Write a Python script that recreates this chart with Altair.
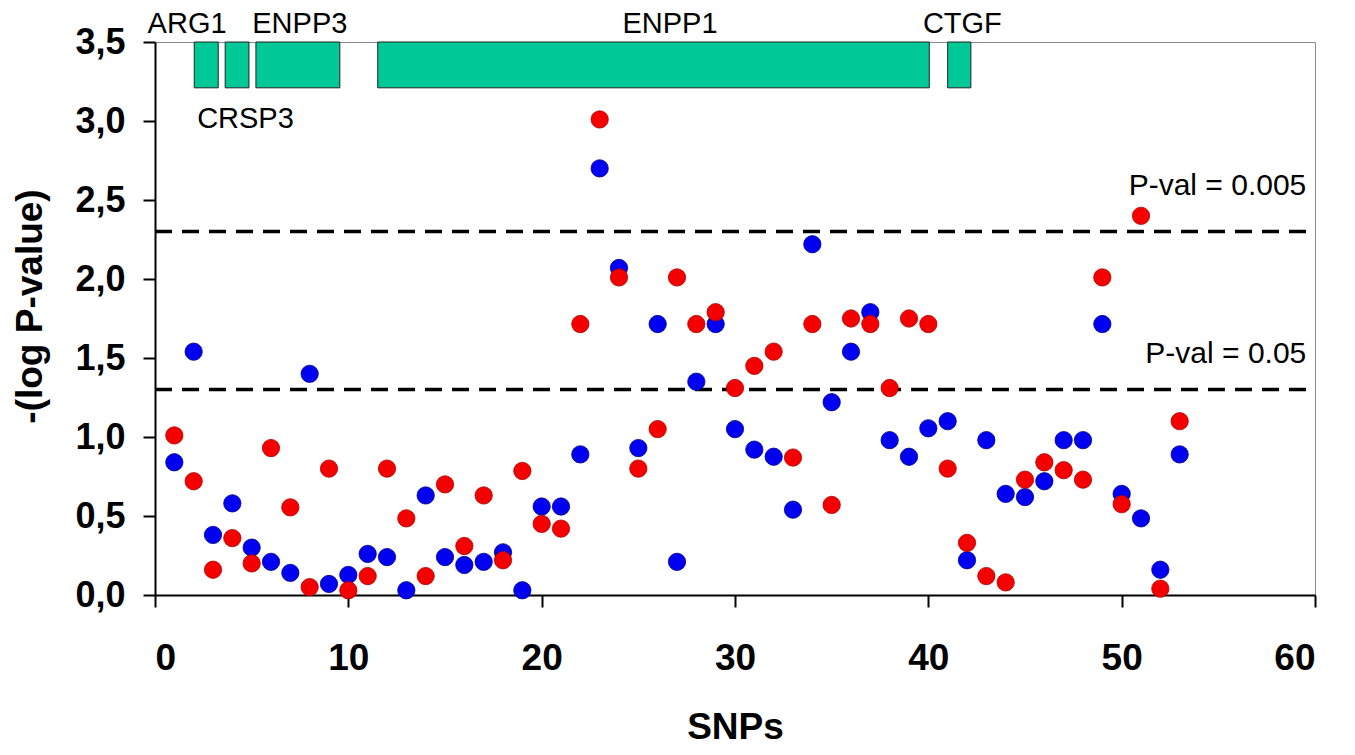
import altair as alt
import pandas as pd

# ---- data ----
snp = list(range(1, 54))
red_vals = [1.01, 0.72, 0.16, 0.36, 0.20, 0.93, 0.555, 0.05, 0.80, 0.03,
            0.12, 0.80, 0.485, 0.12, 0.70, 0.31, 0.63, 0.22, 0.785, 0.45,
            0.42, 1.715, 3.01, 2.01, 0.80, 1.05, 2.01, 1.715, 1.79, 1.31,
            1.45, 1.54, 0.87, 1.715, 0.57, 1.75, 1.715, 1.31, 1.75, 1.715,
            0.80, 0.33, 0.12, 0.08, 0.73, 0.84, 0.79, 0.73, 2.01, 0.575,
            2.40, 0.04, 1.10]
blue_vals = [0.84, 1.54, 0.38, 0.58, 0.30, 0.21, 0.14, 1.40, 0.07, 0.127,
             0.26, 0.24, 0.03, 0.63, 0.24, 0.19, 0.21, 0.27, 0.03, 0.56,
             0.56, 0.89, 2.70, 2.07, 0.93, 1.715, 0.21, 1.35, 1.715, 1.05,
             0.92, 0.875, 0.54, 2.22, 1.22, 1.54, 1.79, 0.98, 0.875, 1.055,
             1.10, 0.22, 0.98, 0.64, 0.62, 0.72, 0.98, 0.98, 1.715, 0.64,
             0.485, 0.16, 0.89]

gene_names = ["ARG1", "CRSP3", "ENPP3", "ENPP1", "CTGF"]
gene_start = [2.03, 3.63, 5.22, 11.52, 41.0]
gene_end = [3.27, 4.86, 9.56, 40.05, 42.2]
gene_bottom = [3.21, 3.21, 3.21, 3.21, 3.21]
gene_top = [3.5, 3.5, 3.5, 3.5, 3.5]

label_names = ["ARG1", "CRSP3", "ENPP3", "ENPP1", "CTGF"]
label_x = [1.66, 4.68, 7.49, 26.64, 41.76]
label_y = [3.56, 2.956, 3.56, 3.56, 3.56]

thr_values = [2.3, 1.3]
thr_start = [0, 0]
thr_end = [59.6, 59.6]
thr_labels = ["P-val = 0.005", "P-val = 0.05"]
thr_label_x = [59.55, 59.55]
thr_label_y = [2.53, 1.47]

x_ticks = [0, 10, 20, 30, 40, 50, 60]
y_ticks = [0, 0.5, 1.0, 1.5, 2.0, 2.5, 3.0, 3.5]

# ---- tables ----
pts = pd.DataFrame({
    "x": snp * 2,
    "y": blue_vals + red_vals,
    "series": ["blue"] * len(snp) + ["red"] * len(snp),
})
genes = pd.DataFrame({"name": gene_names, "x": gene_start, "x2": gene_end,
                      "y": gene_bottom, "y2": gene_top})
glabels = pd.DataFrame({"name": label_names, "x": label_x, "y": label_y})
thr = pd.DataFrame({"x": thr_start, "x2": thr_end, "y": thr_values})
tlabels = pd.DataFrame({"label": thr_labels, "x": thr_label_x, "y": thr_label_y})

FONT = "Liberation Sans"

xscale = alt.Scale(domain=[0, 60], nice=False, zero=False)
yscale = alt.Scale(domain=[0, 3.5], nice=False)

x_axis = alt.Axis(values=x_ticks, title="SNPs", grid=False, tickSize=12,
                  labelPadding=33, titleY=143, titleBaseline="alphabetic",
                  format="d",
                  domainColor="black", domainWidth=2, tickColor="black", tickWidth=2,
                  labelFont=FONT, labelFontSize=37, labelFontWeight="bold",
                  labelColor="black", titleFont=FONT, titleFontSize=37,
                  titleFontWeight="bold", titleColor="black")
y_axis = alt.Axis(values=y_ticks, title="-(log P-value)", grid=False, tickSize=12,
                  labelPadding=18,
                  labelExpr="replace(format(datum.value, '.1f'), '.', ',')",
                  titleX=-125, titleY=264, titleBaseline="middle",
                  domainColor="black", domainWidth=2, tickColor="black", tickWidth=2,
                  labelFont=FONT, labelFontSize=36, labelFontWeight="bold",
                  labelColor="black", titleFont=FONT, titleFontSize=37,
                  titleFontWeight="bold", titleColor="black")

X = lambda f: alt.X(f, type="quantitative", scale=xscale, axis=x_axis)
Y = lambda f: alt.Y(f, type="quantitative", scale=yscale, axis=y_axis)

boxes = alt.Chart(genes).mark_rect(fill="#00C896", stroke="#222222",
                                   strokeWidth=1).encode(
    x=X("x"), x2="x2", y=Y("y"), y2="y2")

gene_text = alt.Chart(glabels).mark_text(font=FONT, fontSize=29, color="black",
                                         align="center", baseline="alphabetic").encode(
    x=X("x"), y=Y("y"), text="name:N")

rules = alt.Chart(thr).mark_rule(color="black", strokeWidth=3.5,
                                 strokeDash=[17, 10]).encode(
    x=X("x"), x2="x2", y=Y("y"))

thr_text = alt.Chart(tlabels).mark_text(font=FONT, fontSize=30, color="black",
                                        align="right", baseline="alphabetic").encode(
    x=X("x"), y=Y("y"), text="label:N")

blue = alt.Chart(pts).transform_filter(alt.datum.series == "blue").mark_circle(
    size=300, opacity=1, color="#0000F0", stroke="#00008C", strokeWidth=0.8).encode(
    x=X("x"), y=Y("y"))

red = alt.Chart(pts).transform_filter(alt.datum.series == "red").mark_circle(
    size=300, opacity=1, color="#F50000", stroke="#B00000", strokeWidth=0.8).encode(
    x=X("x"), y=Y("y"))

chart = alt.layer(boxes, gene_text, rules, thr_text, blue, red).properties(
    width=1160, height=553,
    background="white",
    autosize=alt.AutoSizeParams(type="none"),
    padding={"left": 147, "top": 34, "right": 30, "bottom": 152},
).configure_view(
    stroke="#8a8a8a", strokeWidth=1
)

chart.save("out.html", embed_options={"renderer": "svg", "actions": False})
